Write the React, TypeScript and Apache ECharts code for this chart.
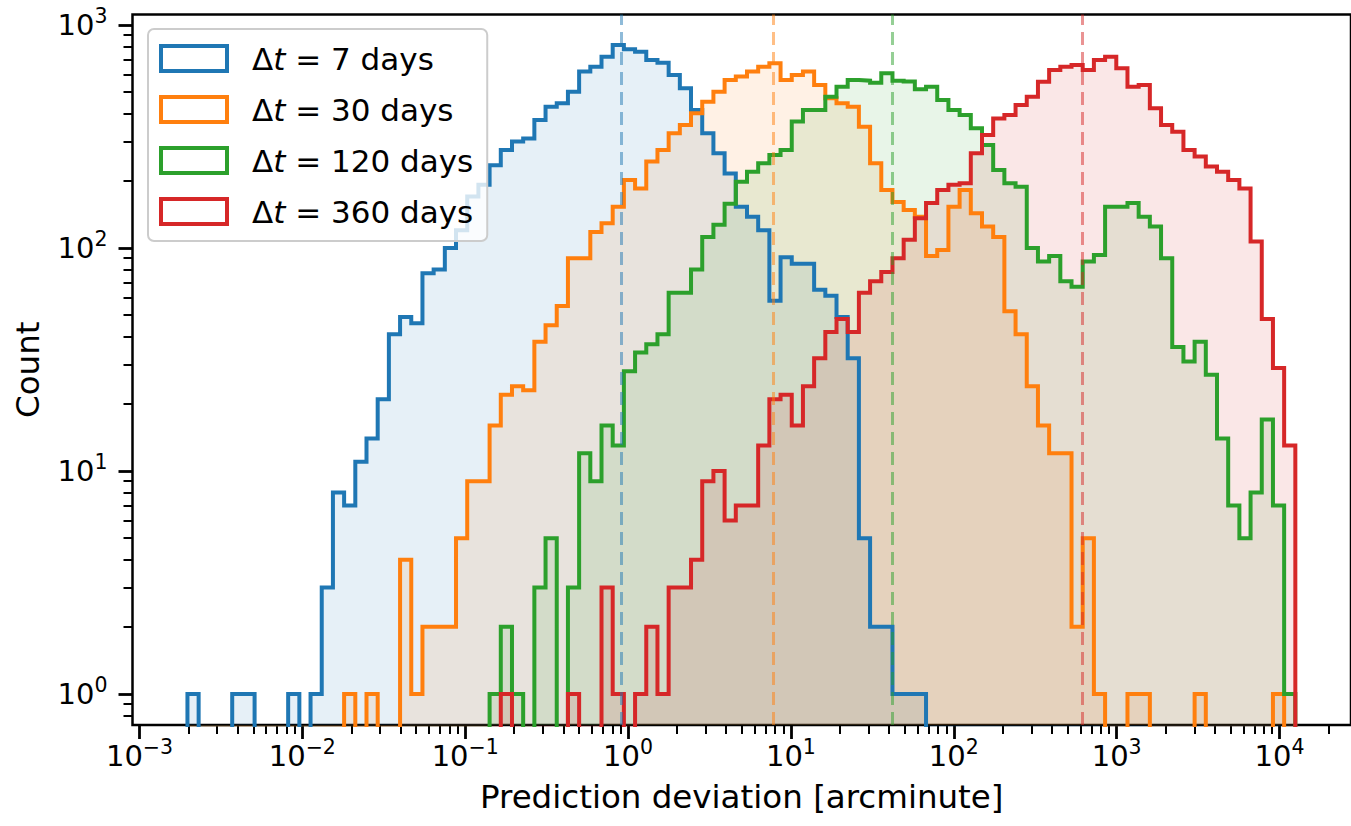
import React, { useEffect, useRef } from "react";
import * as echarts from "echarts";

// Shared logarithmic binning (arcminute) used by every sample
const BIN_EDGE_MIN = 0.00197;
const BIN_EDGE_MAX = 12500;
const BIN_COUNT = 99;

const seriesNames = ["Δt = 7 days", "Δt = 30 days", "Δt = 120 days", "Δt = 360 days"];
const seriesDays = ["7", "30", "120", "360"];
const seriesColors = ["#1f77b4", "#ff7f0e", "#2ca02c", "#d62728"];

// Counts per bin
const counts7 = [
  1, 0, 0, 0, 1, 1, 0, 0, 0, 1,
  0, 1, 3, 8, 7, 11, 14, 21, 41, 49,
  46, 77, 80, 100, 120, 170, 192, 235, 275, 300,
  310, 375, 430, 446, 502, 618, 650, 721, 813, 778,
  759, 697, 678, 597, 520, 416, 327, 266, 216, 153,
  138, 120, 58, 91, 85, 85, 65, 61, 49, 32,
  5, 2, 2, 1, 1, 1, 0, 0, 0, 0,
  0, 0, 0, 0, 0, 0, 0, 0, 0, 0,
  0, 0, 0, 0, 0, 0, 0, 0, 0, 0,
  0, 0, 0, 0, 0, 0, 0, 0, 0,
];
const counts30 = [
  0, 0, 0, 0, 0, 0, 0, 0, 0, 0,
  0, 0, 0, 0, 1, 0, 1, 0, 0, 4,
  1, 2, 2, 2, 5, 9, 9, 16, 22, 24,
  23, 38, 45, 55, 90, 90, 118, 129, 153, 202,
  185, 244, 275, 327, 356, 402, 453, 502, 567, 587,
  618, 650, 673, 567, 597, 618, 538, 469, 446, 430,
  350, 240, 182, 161, 148, 138, 92, 98, 153, 182,
  143, 125, 112, 52, 41, 24, 16, 12, 12, 2,
  5, 1, 0, 0, 1, 1, 0, 0, 0, 0,
  1, 0, 0, 0, 0, 0, 0, 1, 0,
];
const counts120 = [
  0, 0, 0, 0, 0, 0, 0, 0, 0, 0,
  0, 0, 0, 0, 0, 0, 0, 0, 0, 0,
  0, 0, 0, 0, 0, 0, 0, 1, 2, 1,
  0, 3, 5, 0, 3, 12, 9, 16, 13, 28,
  34, 37, 41, 63, 63, 80, 112, 127, 158, 198,
  220, 240, 261, 275, 369, 416, 416, 477, 529, 567,
  563, 551, 607, 563, 558, 515, 529, 461, 416, 395,
  344, 290, 224, 195, 188, 100, 87, 92, 71, 67,
  87, 93, 153, 153, 159, 138, 125, 90, 36, 31,
  38, 27, 14, 7, 5, 8, 17, 7, 1,
];
const counts360 = [
  0, 0, 0, 0, 0, 0, 0, 0, 0, 0,
  0, 0, 0, 0, 0, 0, 0, 0, 0, 0,
  0, 0, 0, 0, 0, 0, 0, 0, 1, 0,
  0, 0, 0, 0, 1, 0, 0, 3, 1, 0,
  1, 2, 1, 3, 3, 4, 9, 10, 6, 7,
  7, 13, 21, 22, 16, 24, 32, 42, 48, 42,
  63, 71, 78, 90, 109, 136, 159, 182, 192, 195,
  266, 321, 381, 395, 438, 477, 557, 628, 650, 662,
  628, 697, 721, 640, 529, 538, 423, 356, 332, 275,
  257, 232, 220, 202, 185, 107, 48, 29, 13,
];
const allCounts = [counts7, counts30, counts120, counts360];

// Median deviation of each sample (arcminute)
const medians = [0.903, 7.7, 41.4, 623];

// Axis ticks (powers of ten) and visible ranges in log10 units
const xMajorExponents = [-3, -2, -1, 0, 1, 2, 3, 4];
const yMajorExponents = [0, 1, 2, 3];
const minorMultipliers = [2, 3, 4, 5, 6, 7, 8, 9];
const X_RANGE = [-3.0429, 4.4387];
const Y_RANGE = [-0.139, 3.0471];

const FONT = "DejaVu Sans";

const lmin = Math.log10(BIN_EDGE_MIN);
const lmax = Math.log10(BIN_EDGE_MAX);
const logEdges = Array.from({ length: BIN_COUNT + 1 }, (_, i) => lmin + ((lmax - lmin) * i) / BIN_COUNT);

function minorTicks(range: number[]) {
  const out: number[] = [];
  for (let n = Math.floor(range[0]) - 1; n <= Math.ceil(range[1]); n++) {
    for (const k of minorMultipliers) {
      const v = n + Math.log10(k);
      if (v > range[0] && v < range[1]) out.push(v);
    }
  }
  return out;
}

// outline of a histogram drawn as steps; empty bins drop below the axis
function stepOutline(counts: number[]) {
  const below = Y_RANGE[0] - 0.5;
  const lv = (c: number) => (c > 0 ? Math.log10(c) : below);
  const pts: number[][] = [[logEdges[0], below]];
  counts.forEach((c, i) => pts.push([logEdges[i], lv(c)]));
  pts.push([logEdges[BIN_COUNT], below]);
  return pts;
}

const supText = (n: number) => (n < 0 ? "\u2212" + Math.abs(n) : String(n));

const tickRich = {
  b: { fontFamily: FONT, fontSize: 29, lineHeight: 29, verticalAlign: "bottom", color: "#000" },
  s: { fontFamily: FONT, fontSize: 20.5, lineHeight: 20.5, verticalAlign: "bottom", padding: [0, 0, 13, 0], color: "#000" },
};

const legendRich = {
  d: { fontFamily: FONT, fontSize: 31, color: "#000", padding: [0, 0, 0, 20] },
  i: { fontFamily: FONT, fontSize: 31, fontStyle: "italic", color: "#000" },
  r: { fontFamily: FONT, fontSize: 31, color: "#000" },
};

export default function App() {
  const ref = useRef<HTMLDivElement>(null);

  useEffect(() => {
    if (!ref.current) return;
    const chart = echarts.init(ref.current, null, { renderer: "svg" });

    const series = allCounts.map((counts, i) => ({
      name: seriesNames[i],
      type: "line",
      step: "end",
      xAxisIndex: 0,
      yAxisIndex: 0,
      data: stepOutline(counts),
      showSymbol: false,
      symbol: "none",
      clip: true,
      lineStyle: { color: seriesColors[i], width: 4, join: "miter", cap: "butt" },
      itemStyle: { color: seriesColors[i] },
      areaStyle: { color: seriesColors[i], opacity: 0.11, origin: "start" },
      emphasis: { disabled: true },
      markLine: {
        silent: true,
        symbol: ["none", "none"],
        label: { show: false },
        lineStyle: { color: seriesColors[i], width: 3, type: [13, 7], opacity: 0.5 },
        data: [{ xAxis: Math.log10(medians[i]) }],
      },
    }));

    const hiddenAxisBits = {
      axisLine: { show: false, onZero: false },
      splitLine: { show: false },
    };

    chart.setOption({
      animation: false,
      backgroundColor: "#ffffff",
      grid: {
        left: 132.5,
        top: 14.5,
        width: 1219.5,
        height: 710.5,
        show: true,
        borderColor: "#000",
        borderWidth: 2.5,
        backgroundColor: "transparent",
      },
      legend: {
        orient: "vertical",
        left: 148,
        top: 29,
        padding: [14, 14, 14, 11],
        itemGap: 20,
        itemWidth: 66,
        itemHeight: 25,
        icon: "rect",
        selectedMode: false,
        backgroundColor: "rgba(255,255,255,0.8)",
        borderColor: "#cccccc",
        borderWidth: 2,
        borderRadius: 6,
        data: seriesNames.map((n, i) => ({
          name: n,
          itemStyle: { color: "#ffffff", borderColor: seriesColors[i], borderWidth: 4 },
        })),
        formatter: (name: string) => {
          const i = seriesNames.indexOf(name);
          return `{d|Δ}{i|t}{r| = ${seriesDays[i]} days}`;
        },
        textStyle: { fontFamily: FONT, fontSize: 31, color: "#000", rich: legendRich },
      },
      xAxis: [
        {
          type: "value",
          position: "bottom",
          min: X_RANGE[0],
          max: X_RANGE[1],
          ...hiddenAxisBits,
          axisTick: {
            show: true,
            customValues: xMajorExponents,
            length: 14,
            lineStyle: { color: "#000", width: 2.8 },
          },
          axisLabel: {
            customValues: xMajorExponents,
            margin: 16,
            formatter: (v: number) => `{b|10}{s|${supText(Math.round(v))}}`,
            rich: tickRich,
          },
          name: "Prediction deviation [arcminute]",
          nameLocation: "middle",
          nameGap: 55,
          nameTextStyle: { fontFamily: FONT, fontSize: 32.5, color: "#000" },
        },
        {
          type: "value",
          position: "bottom",
          min: X_RANGE[0],
          max: X_RANGE[1],
          ...hiddenAxisBits,
          axisLabel: { show: false },
          axisTick: {
            show: true,
            customValues: minorTicks(X_RANGE),
            length: 9,
            lineStyle: { color: "#000", width: 2 },
          },
        },
      ],
      yAxis: [
        {
          type: "value",
          position: "left",
          min: Y_RANGE[0],
          max: Y_RANGE[1],
          ...hiddenAxisBits,
          axisTick: {
            show: true,
            customValues: yMajorExponents,
            length: 14,
            lineStyle: { color: "#000", width: 2.8 },
          },
          axisLabel: {
            customValues: yMajorExponents,
            margin: 25,
            formatter: (v: number) => `{b|10}{s|${supText(Math.round(v))}}`,
            rich: tickRich,
          },
          name: "Count",
          nameLocation: "middle",
          nameRotate: 90,
          nameGap: 88,
          nameTextStyle: { fontFamily: FONT, fontSize: 32.5, color: "#000" },
        },
        {
          type: "value",
          position: "left",
          min: Y_RANGE[0],
          max: Y_RANGE[1],
          ...hiddenAxisBits,
          axisLabel: { show: false },
          axisTick: {
            show: true,
            customValues: minorTicks(Y_RANGE),
            length: 9,
            lineStyle: { color: "#000", width: 2 },
          },
        },
      ],
      series,
    });

    return () => chart.dispose();
  }, []);

  return (
    <div
      ref={ref}
      style={{ position: "fixed", left: 0, top: 0, width: 1351, height: 826, background: "#fff" }}
    />
  );
}
